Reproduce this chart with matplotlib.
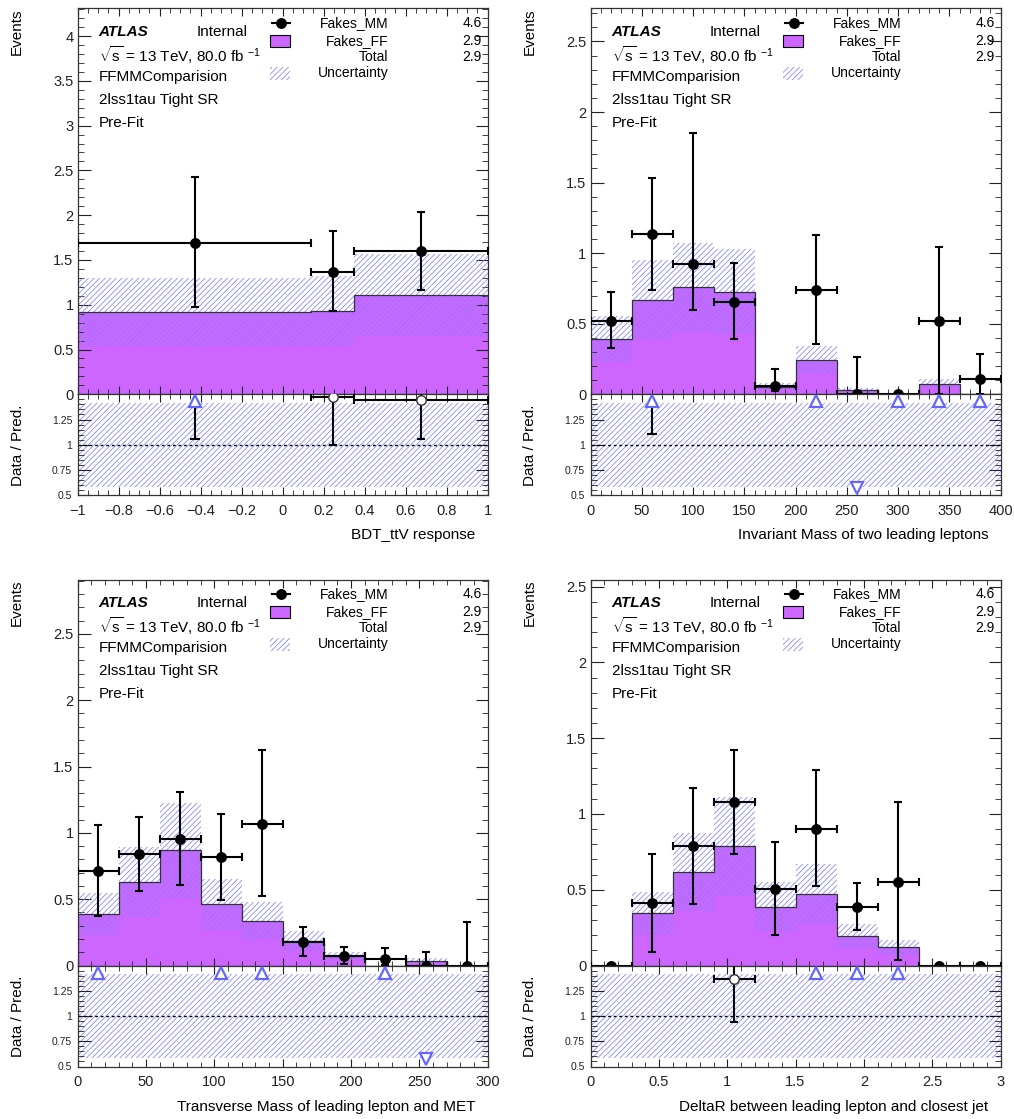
import numpy as np
import matplotlib
matplotlib.use("Agg")
import matplotlib.pyplot as plt
from matplotlib.ticker import MultipleLocator, FuncFormatter
from matplotlib.patches import Rectangle

plt.rcParams['font.family'] = ['Liberation Sans', 'DejaVu Sans']
plt.rcParams['mathtext.fontset'] = 'custom'
plt.rcParams['mathtext.rm'] = 'Liberation Sans'
plt.rcParams['mathtext.it'] = 'Liberation Sans:italic'
plt.rcParams['hatch.linewidth'] = 0.55

# ---- panel 1 : BDT_ttV response ----
edges1 = [-1.0, 0.14, 0.35, 1.0]
mm1 = [1.69, 1.37, 1.60]
mm1_up = [2.43, 1.82, 2.03]
mm1_lo = [0.97, 0.925, 1.17]
ff1 = [0.92, 0.93, 1.11]

# ---- panel 2 : invariant mass of two leading leptons ----
edges2 = [0, 40, 80, 120, 160, 200, 240, 280, 320, 360, 400]
mm2 = [0.52, 1.135, 0.92, 0.657, 0.057, 0.74, 0.0, 0.0, 0.52, 0.105]
mm2_up = [0.723, 1.53, 1.85, 0.929, 0.18, 1.128, 0.267, 0.0, 1.043, 0.286]
mm2_lo = [0.329, 0.742, 0.594, 0.39, 0.02, 0.357, 0.0, 0.0, 0.0, 0.0]
ff2 = [0.39, 0.67, 0.76, 0.726, 0.055, 0.24, 0.03, 0.0, 0.076, 0.0]

# ---- panel 3 : transverse mass of leading lepton and MET ----
edges3 = [0, 30, 60, 90, 120, 150, 180, 210, 240, 270, 300]
mm3 = [0.71, 0.84, 0.955, 0.82, 1.07, 0.18, 0.07, 0.05, 0.0, 0.0]
mm3_up = [1.058, 1.12, 1.31, 1.14, 1.625, 0.2875, 0.1425, 0.13, 0.10, 0.33]
mm3_lo = [0.375, 0.56, 0.605, 0.495, 0.525, 0.0725, 0.0125, 0.0075, 0.0, 0.0]
ff3 = [0.3875, 0.63, 0.8675, 0.4625, 0.3375, 0.1825, 0.0725, 0.0, 0.0375, 0.0]

# ---- panel 4 : DeltaR leading lepton / closest jet ----
edges4 = [0.0, 0.3, 0.6, 0.9, 1.2, 1.5, 1.8, 2.1, 2.4, 2.7, 3.0]
mm4 = [0.0, 0.411, 0.787, 1.077, 0.505, 0.903, 0.389, 0.552, 0.0, 0.0]
mm4_up = [0.0, 0.734, 1.171, 1.422, 0.818, 1.288, 0.545, 1.077, 0.0, 0.0]
mm4_lo = [0.0, 0.092, 0.404, 0.738, 0.202, 0.527, 0.235, 0.037, 0.0, 0.0]
ff4 = [0.0, 0.345, 0.618, 0.787, 0.389, 0.4725, 0.193, 0.121, 0.0, 0.0]

# ratio markers drawn in the lower pad ('^|' arrow with error, 'o' open point, '' none)
marks1 = ['^|', 'o', 'o']
marks2 = ['', '^|', '', '', '', '^', 'v', '^', '^', '^']
marks3 = ['^', '', '', '^', '^', '', '', '^', 'v', '']
marks4 = ['', '', '', 'o', '', '^', '^', '^', '', '']

rel_unc = 0.415                     # relative uncertainty of the prediction
legend_vals = ['4.6', '2.9', '2.9']
info_lines = ['FFMMComparision', '2lss1tau Tight SR', 'Pre-Fit']

PURPLE = '#cc66ff'
HATCH = '#8080ff'
ARROW = '#6666ff'
HPAT = '//////'

W, H = 1014, 1119
fig = plt.figure(figsize=(W / 100, H / 100), dpi=100)

# tick labels like ROOT: 0.5, 1, -0.2 ...
tick_fmt = FuncFormatter(lambda v, p: ('%g' % round(v, 6)).replace('-', '\u2212'))


def px_axes(left, top, width, height):
    return fig.add_axes([left / W, 1 - (top + height) / H, width / W, height / H])


def style_ticks(ax, ylen):
    ax.tick_params(which='both', direction='in', top=True, right=True, colors='#222222')
    ax.tick_params(axis='y', which='major', length=ylen, labelsize=10.5, pad=3)
    ax.tick_params(axis='y', which='minor', length=ylen / 2)
    ax.tick_params(axis='x', which='major', length=6, labelsize=10.5, pad=6)
    ax.tick_params(axis='x', which='minor', length=3.5)
    for s in ax.spines.values():
        s.set_linewidth(0.9)
        s.set_color('#333333')


def draw_panel(left, top, edges, mm, up, lo, ff, marks, ymax, xmaj, xmin_, xlabel):
    edges = np.array(edges, dtype=float)
    mm, up, lo, ff = (np.array(v, dtype=float) for v in (mm, up, lo, ff))
    centers = 0.5 * (edges[1:] + edges[:-1])
    widths = edges[1:] - edges[:-1]

    ax = px_axes(left, top, 410, 386)
    rax = px_axes(left, top + 386, 410, 101)

    # prediction + uncertainty band
    ax.stairs(ff, edges, fill=True, color=PURPLE, lw=0, zorder=1)
    unc = rel_unc * ff
    ax.bar(centers, 2 * unc, bottom=ff - unc, width=widths, facecolor='none',
           edgecolor=HATCH, hatch=HPAT, lw=0, zorder=2)
    ax.stairs(ff, edges, baseline=None, color='#333333', lw=0.9, zorder=3)

    # Fakes_MM points
    ax.errorbar(centers, mm, yerr=[mm - lo, up - mm], xerr=widths / 2, fmt='o',
                color='k', ms=6.8, lw=1.5, capsize=3, capthick=1.5, zorder=5)

    ax.set_xlim(edges[0], edges[-1])
    ax.set_ylim(0, ymax)
    ax.xaxis.set_major_locator(MultipleLocator(xmaj))
    ax.xaxis.set_minor_locator(MultipleLocator(xmin_))
    ax.yaxis.set_major_locator(MultipleLocator(0.5))
    ax.yaxis.set_minor_locator(MultipleLocator(0.1))
    ax.yaxis.set_major_formatter(tick_fmt)
    ax.tick_params(labelbottom=False)
    style_ticks(ax, 9)

    # ratio pad
    rax.fill_between([edges[0], edges[-1]], 1 - rel_unc, 1 + rel_unc, facecolor='none',
                     edgecolor=HATCH, hatch=HPAT, lw=0, zorder=1)
    rax.axhline(1, color='k', lw=1, ls=(0, (2, 2)), zorder=2)
    for i, m in enumerate(marks):
        if m == '':
            continue
        x = centers[i]
        if m.startswith('^'):
            if m == '^|':
                r_lo = lo[i] / ff[i]
                rax.plot([x, x], [1.39, r_lo], color='k', lw=1.5, zorder=3)
                rax.plot(x, r_lo, marker='_', ms=7, mew=1.5, color='k', zorder=3)
            rax.plot(x, 1.43, marker='^', ms=8, mfc='white', mec=ARROW, mew=1.6, zorder=4)
        elif m == 'v':
            rax.plot(x, 0.57, marker='v', ms=8, mfc='white', mec=ARROW, mew=1.6, zorder=4)
        elif m == 'o':
            r = mm[i] / ff[i]
            rax.errorbar([x], [r], yerr=[[(mm[i] - lo[i]) / ff[i]], [(up[i] - mm[i]) / ff[i]]],
                         xerr=[widths[i] / 2], fmt='o', color='k', mfc='white', mec='#333333',
                         ms=6.8, lw=1.5, capsize=3, capthick=1.5, zorder=4)
    rax.set_xlim(edges[0], edges[-1])
    rax.set_ylim(0.5, 1.5)
    rax.set_yticks([0.5, 0.75, 1, 1.25])
    rax.yaxis.set_major_formatter(tick_fmt)
    rax.yaxis.set_minor_locator(MultipleLocator(0.05))
    rax.xaxis.set_major_locator(MultipleLocator(xmaj))
    rax.xaxis.set_minor_locator(MultipleLocator(xmin_))
    rax.xaxis.set_major_formatter(tick_fmt)
    style_ticks(rax, 9)
    rax.tick_params(axis='y', labelsize=7.5, pad=4)

    # axis titles
    fig.text((left - 61) / W, 1 - top / H, 'Events', rotation=90, ha='center', va='top', fontsize=11)
    fig.text((left - 60) / W, 1 - (top + 437) / H, 'Data / Pred.', rotation=90, ha='center',
             va='center', fontsize=11)
    fig.text((left + 398) / W, 1 - (top + 527) / H, xlabel, ha='right', va='center', fontsize=11)

    # labels in the upper-left corner
    def fx(dx):
        return dx / 410

    def fy(dy):
        return 1 - dy / 386

    tr = ax.transAxes
    ax.text(fx(21), fy(24), 'ATLAS', transform=tr, fontsize=11, fontweight='bold',
            fontstyle='italic', va='center')
    ax.text(fx(119), fy(24), 'Internal', transform=tr, fontsize=11, va='center')
    ax.text(fx(21), fy(46.5), r'$\sqrt{\mathrm{s}}$ = 13 TeV, 80.0 fb $^{-1}$', transform=tr,
            fontsize=11, va='center')
    for k, line in enumerate(info_lines):
        ax.text(fx(21), fy(69 + 23 * k), line, transform=tr, fontsize=11, va='center')

    # legend
    ax.plot([fx(194), fx(212)], [fy(14.4), fy(14.4)], transform=tr, color='k', lw=1.5)
    ax.plot([fx(203)], [fy(14.4)], transform=tr, marker='o', color='k', ms=6.8)
    ax.add_patch(Rectangle((fx(192), fy(38.4)), fx(20), 11.7 / 386, transform=tr,
                           facecolor=PURPLE, edgecolor='k', lw=0.8))
    ax.add_patch(Rectangle((fx(192), fy(72)), fx(20), 13 / 386, transform=tr,
                           facecolor='none', edgecolor=HATCH, hatch=HPAT, lw=0))
    names = ['Fakes_MM', 'Fakes_FF', 'Total']
    rows = [14.4, 32.4, 48.4]
    for name, val, dy in zip(names, legend_vals, rows):
        ax.text(fx(311), fy(dy), name, transform=tr, fontsize=10, ha='right', va='center')
        ax.text(fx(404), fy(dy), val, transform=tr, fontsize=10, ha='right', va='center')
    ax.text(fx(311), fy(64.4), 'Uncertainty', transform=tr, fontsize=10, ha='right', va='center')


draw_panel(77.7, 8.3, edges1, mm1, mm1_up, mm1_lo, ff1, marks1, 4.31, 0.2, 0.05, 'BDT_ttV response')
draw_panel(590.5, 8.3, edges2, mm2, mm2_up, mm2_lo, ff2, marks2, 2.735, 50, 10,
           'Invariant Mass of two leading leptons')
draw_panel(77.7, 579.5, edges3, mm3, mm3_up, mm3_lo, ff3, marks3, 2.91, 50, 10,
           'Transverse Mass of leading lepton and MET')
draw_panel(590.5, 579.5, edges4, mm4, mm4_up, mm4_lo, ff4, marks4, 2.547, 0.5, 0.1,
           'DeltaR between leading lepton and closest jet')

fig.savefig('out.png', dpi=100)
